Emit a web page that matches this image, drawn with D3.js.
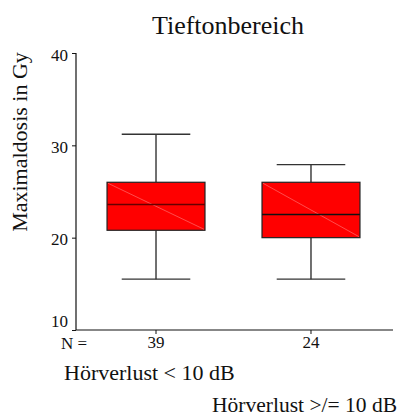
<!DOCTYPE html>
<html><head><meta charset="utf-8">
<script src="https://cdn.jsdelivr.net/npm/d3@7"></script>
<style>body{margin:0;background:#fff}svg{display:block}text{font-family:"Liberation Serif","Times New Roman",serif;fill:#111}</style>
</head><body><div id="chart"></div>
<script>
const categories = ["Hörverlust < 10 dB", "Hörverlust >/= 10 dB"];
const counts = [39, 24];
const whiskerLow = [15.5, 15.5];
const q1 = [20.8, 20.0];
const median = [23.6, 22.5];
const q3 = [26.0, 26.0];
const whiskerHigh = [31.2, 27.9];
const yTicks = [10, 20, 30, 40];
const title = "Tieftonbereich";
const yLabel = "Maximaldosis in Gy";

const W = 402, H = 418;
const svg = d3.select("#chart").append("svg").attr("width", W).attr("height", H);

const y = d3.scaleLinear().domain([10, 40]).range([330, 53]);
const x = d3.scaleBand().domain(categories).range([50, 417]).padding(0.368);

const data = categories.map((c, i) => ({c, n: counts[i], lo: whiskerLow[i], q1: q1[i], med: median[i], q3: q3[i], hi: whiskerHigh[i]}));

const tickFont = "17px";
// title
svg.append("text").attr("x", 228).attr("y", 34).attr("text-anchor", "middle").style("font-size", "26px").text(title);
// y label
svg.append("text").attr("transform", "translate(27,142) rotate(-90)").attr("text-anchor", "middle").style("font-size", "22px").text(yLabel);

// y axis
const yAxis = svg.append("g").attr("transform", "translate(76,0)")
  .call(d3.axisLeft(y).tickValues(yTicks).tickSize(4).tickPadding(4).tickFormat(d3.format("d")));
yAxis.select(".domain").attr("d", `M0,${y(10)}V${y(40)}`).attr("stroke", "#111").attr("stroke-width", 1.2);
yAxis.selectAll(".tick line").attr("stroke", "#111");
yAxis.selectAll(".tick text").style("font-size", tickFont).style("font-family", '"Liberation Serif",serif').attr("fill", "#111")
  .attr("dy", d => d === 10 ? "-0.2em" : "0.42em");

// x axis
const xAxis = svg.append("g").attr("transform", `translate(0,${y(10)})`)
  .call(d3.axisBottom(x).tickSize(4).tickFormat((d, i) => counts[i]).tickPadding(2));
xAxis.select(".domain").attr("d", `M76,0H393`).attr("stroke", "#111").attr("stroke-width", 1.2);
xAxis.selectAll(".tick line").attr("stroke", "#111");
xAxis.selectAll(".tick text").style("font-size", tickFont).style("font-family", '"Liberation Serif",serif').attr("fill", "#111");
svg.append("text").attr("x", 61).attr("y", 349).style("font-size", tickFont).text("N =");

const bw = x.bandwidth();
const capW = bw * 0.7;
const g = svg.append("g").selectAll("g").data(data).join("g");
const cx = d => x(d.c) + bw / 2;
// whiskers
g.append("line").attr("x1", cx).attr("x2", cx).attr("y1", d => y(d.hi)).attr("y2", d => y(d.q3)).attr("stroke", "#111").attr("stroke-width", 1.2);
g.append("line").attr("x1", cx).attr("x2", cx).attr("y1", d => y(d.q1)).attr("y2", d => y(d.lo)).attr("stroke", "#111").attr("stroke-width", 1.2);
g.append("line").attr("x1", d => cx(d) - capW / 2).attr("x2", d => cx(d) + capW / 2).attr("y1", d => y(d.hi)).attr("y2", d => y(d.hi)).attr("stroke", "#333").attr("stroke-width", 1.3);
g.append("line").attr("x1", d => cx(d) - capW / 2).attr("x2", d => cx(d) + capW / 2).attr("y1", d => y(d.lo)).attr("y2", d => y(d.lo)).attr("stroke", "#333").attr("stroke-width", 1.3);
// box
g.append("rect").attr("x", d => x(d.c)).attr("width", bw).attr("y", d => y(d.q3)).attr("height", d => y(d.q1) - y(d.q3))
  .attr("fill", "#ff0000").attr("stroke", "#222").attr("stroke-width", 1.2);
// faint diagonal
g.append("line").attr("x1", d => x(d.c) + 1).attr("x2", d => x(d.c) + bw - 1).attr("y1", d => y(d.q3) + 1).attr("y2", d => y(d.q1) - 1)
  .attr("stroke", "#ff8080").attr("stroke-width", 0.6);
// median
g.append("line").attr("x1", d => x(d.c)).attr("x2", d => x(d.c) + bw).attr("y1", d => y(d.med)).attr("y2", d => y(d.med))
  .attr("stroke", (d, i) => i === 0 ? "#660000" : "#111").attr("stroke-width", 1.5);

// category labels
svg.append("text").attr("x", 64).attr("y", 380).style("font-size", "22px").text(categories[0]);
svg.append("text").attr("x", 397).attr("y", 412).attr("text-anchor", "end").style("font-size", "21.5px").text(categories[1]);
</script></body></html>
